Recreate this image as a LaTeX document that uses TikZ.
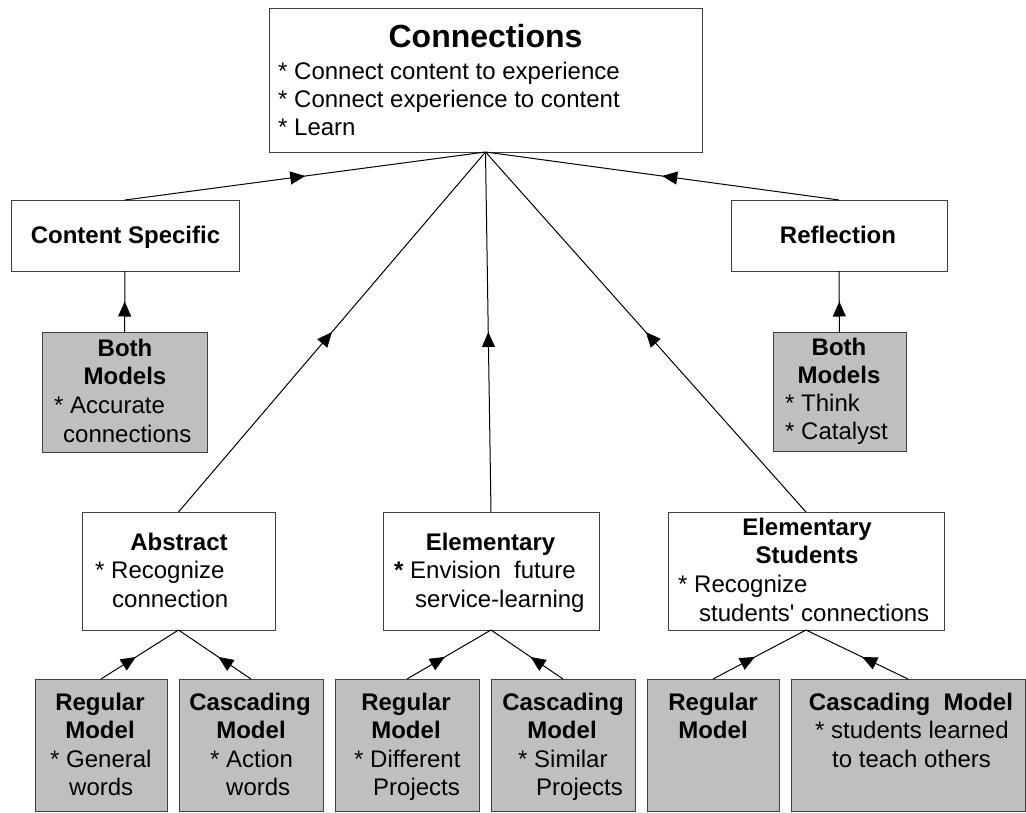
\documentclass[tikz,border=0pt]{standalone}
\usepackage{fontspec}
\newfontfamily\arial{Liberation Sans}
\usetikzlibrary{arrows.meta,decorations.markings}
\tikzset{
  wbox/.style={draw=black!75, line width=0.9pt, fill=white, inner sep=0pt, outer sep=0pt},
  gbox/.style={wbox, fill=black!25},
  ttl/.style={inner sep=0pt, anchor=base, font=\arial\fontsize{24}{28}\selectfont\bfseries},
  bod/.style={inner sep=0pt, anchor=base west, font=\arial\fontsize{24}{28}\selectfont},
  conn/.style={draw=black, line width=1pt, postaction={decorate},
    decoration={markings, mark=at position #1 with {\arrow{Triangle[length=15pt,width=13pt]}}}},
  conn/.default=0.5
}
\begin{document}
\begin{tikzpicture}[x=1pt,y=-1pt]
\useasboundingbox (0,0) rectangle (1026,812);
% boxes
\node[wbox, minimum width=433pt, minimum height=144pt] (top) at (485.5,80) {};
\node[wbox, minimum width=228pt, minimum height=71pt] (cs) at (125,235.5) {};
\node[gbox, minimum width=165pt, minimum height=120pt] (bothl) at (124.5,392) {};
\node[wbox, minimum width=216pt, minimum height=71pt] (refl) at (839,235.5) {};
\node[gbox, minimum width=133pt, minimum height=119pt] (bothr) at (839.5,391.5) {};
\node[wbox, minimum width=193pt, minimum height=118pt] (abs) at (178.5,571) {};
\node[wbox, minimum width=216pt, minimum height=118pt] (elem) at (491,571) {};
\node[wbox, minimum width=276pt, minimum height=118pt] (stud) at (806,571) {};
\node[gbox, minimum width=132pt, minimum height=132pt] (reg1) at (101,745) {};
\node[gbox, minimum width=144pt, minimum height=132pt] (cas1) at (251,745) {};
\node[gbox, minimum width=144pt, minimum height=132pt] (reg2) at (407,745) {};
\node[gbox, minimum width=144pt, minimum height=132pt] (cas2) at (563,745) {};
\node[gbox, minimum width=132pt, minimum height=132pt] (reg3) at (713,745) {};
\node[gbox, minimum width=234pt, minimum height=132pt] (cas3) at (908,745) {};
% connectors
\draw[conn] (cs.north) -- (top.south);
\draw[conn] (refl.north) -- (top.south);
\draw[conn] (bothl.north) -- (cs.south);
\draw[conn] (bothr.north) -- (refl.south);
\draw[conn] (abs.north) -- (top.south);
\draw[conn] (elem.north) -- (top.south);
\draw[conn] (stud.north) -- (top.south);
\draw[conn=0.45] (reg1.north) -- (abs.south);
\draw[conn=0.45] (cas1.north) -- (abs.south);
\draw[conn=0.45] (reg2.north) -- (elem.south);
\draw[conn=0.45] (cas2.north) -- (elem.south);
\draw[conn=0.45] (reg3.north) -- (stud.south);
\draw[conn=0.45] (cas3.north) -- (stud.south);
% texts: top
\node[ttl, font=\arial\fontsize{32}{36}\selectfont\bfseries] (t0) at (485.5,47) {Connections};
\node[bod] (t1) at (278,79) {* Connect content to experience};
\node[bod] (t2) at (278,107) {* Connect experience to content};
\node[bod] (t3) at (278,135) {* Learn};
% content specific / reflection
\node[ttl] (c0) at (125.5,243) {Content Specific};
\node[ttl] (r0) at (838,243) {Reflection};
% both models left
\node[ttl] (bl0) at (125,356) {Both};
\node[ttl] (bl1) at (125,384) {Models};
\node[bod] (bl2) at (54,413) {* Accurate};
\node[bod] (bl3) at (63,442) {connections};
% both models right
\node[ttl] (br0) at (839,355) {Both};
\node[ttl] (br1) at (839,383) {Models};
\node[bod] (br2) at (785,411) {* Think};
\node[bod] (br3) at (785,439) {* Catalyst};
% abstract
\node[ttl] (a0) at (179,550) {Abstract};
\node[bod] (a1) at (95,578) {* Recognize};
\node[bod] (a2) at (112,607) {connection};
% elementary
\node[ttl] (e0) at (490.5,550) {Elementary};
\node[bod] (e1) at (394,578) {\textbf{*} Envision\ \ future};
\node[bod] (e2) at (415,607) {service-learning};
% elementary students
\node[ttl] (s0) at (807,535) {Elementary};
\node[ttl] (s1) at (807,563) {Students};
\node[bod] (s2) at (678,592) {* Recognize};
\node[bod] (s3) at (699,621) {students' connections};
% bottom row
\node[ttl] (g0) at (100,710) {Regular};
\node[ttl] (g1) at (100,738) {Model};
\node[bod] (g2) at (50,767) {* General};
\node[bod] (g3) at (69,795) {words};
\node[ttl] (h0) at (250,710) {Cascading};
\node[ttl] (h1) at (251,738) {Model};
\node[bod] (h2) at (210,767) {* Action};
\node[bod] (h3) at (226,795) {words};
\node[ttl] (i0) at (406,710) {Regular};
\node[ttl] (i1) at (406,738) {Model};
\node[bod] (i2) at (354,767) {* Different};
\node[bod] (i3) at (373,795) {Projects};
\node[ttl] (j0) at (563,710) {Cascading};
\node[ttl] (j1) at (562,738) {Model};
\node[bod] (j2) at (518,767) {* Similar};
\node[bod] (j3) at (536,795) {Projects};
\node[ttl] (k0) at (713,710) {Regular};
\node[ttl] (k1) at (713,738) {Model};
\node[ttl] (m0) at (911,710) {Cascading\ \ Model};
\node[bod] (m1) at (815,738) {* students learned};
\node[bod] (m2) at (832,767) {to teach others};
\end{tikzpicture}
\end{document}
